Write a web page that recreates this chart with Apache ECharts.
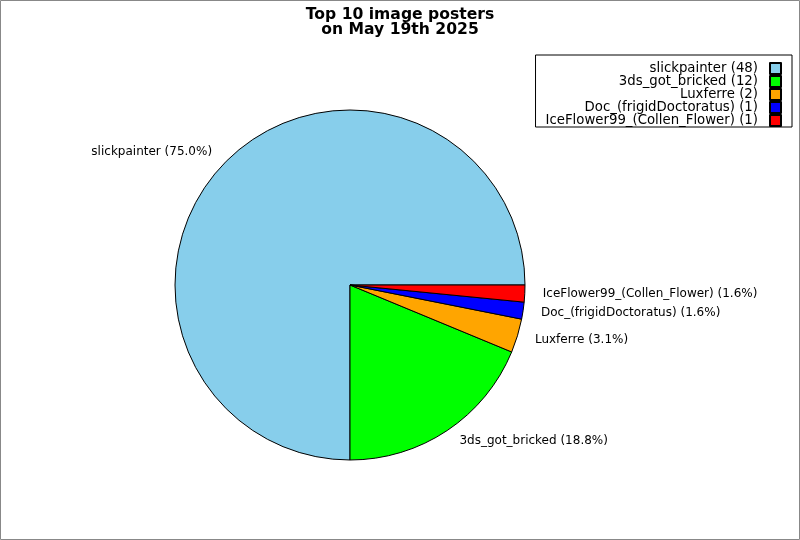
<!DOCTYPE html>
<html>
<head>
<meta charset="utf-8">
<script src="https://cdn.jsdelivr.net/npm/echarts@6/dist/echarts.min.js"></script>
<style>
html,body{margin:0;padding:0;background:#fff;}
#chart{width:800px;height:540px;}
</style>
</head>
<body>
<div id="chart"></div>
<script>
const names = ['slickpainter', '3ds_got_bricked', 'Luxferre', 'Doc_(frigidDoctoratus)', 'IceFlower99_(Collen_Flower)'];
const counts = [48, 12, 2, 1, 1];
const colors = ['#87CEEB', '#00FF00', '#FFA500', '#0000FF', '#FF0000'];
const titleLines = ['Top 10 image posters', 'on May 19th 2025'];

const total = counts.reduce((a, b) => a + b, 0);
const data = names.map((n, i) => ({ name: n, value: counts[i], itemStyle: { color: colors[i] } }));

const chart = echarts.init(document.getElementById('chart'));
chart.setOption({
  animation: false,
  backgroundColor: '#fff',
  textStyle: { fontFamily: 'DejaVu Sans' },
  graphic: [{
    type: 'rect',
    shape: { x: 0.5, y: 0.5, width: 799, height: 539 },
    style: { fill: 'none', stroke: '#888', lineWidth: 1 },
    silent: true
  }],
  title: {
    text: titleLines.join('\n'),
    left: 'center',
    top: 2,
    textStyle: { fontFamily: 'DejaVu Sans', fontWeight: 'bold', fontSize: 15.6, lineHeight: 15.5, color: '#000' }
  },
  legend: {
    orient: 'vertical',
    right: 8,
    top: 55,
    align: 'right',
    itemWidth: 11,
    itemHeight: 11,
    itemGap: 0,
    padding: [7, 10, 0, 10],
    borderColor: '#000',
    borderWidth: 1,
    borderRadius: 0,
    icon: 'rect',
    textStyle: { fontFamily: 'DejaVu Sans', fontSize: 13.3, lineHeight: 13, color: '#000', padding: [0, 7, 0, 0] },
    formatter: function (name) {
      const i = names.indexOf(name);
      return name + ' (' + counts[i] + ')';
    }
  },
  series: [{
    type: 'pie',
    center: [350, 285],
    radius: 175,
    startAngle: 0,
    clockwise: false,
    avoidLabelOverlap: false,
    itemStyle: { borderColor: '#000', borderWidth: 1 },
    label: {
      show: true,
      position: 'outside',
      fontFamily: 'DejaVu Sans',
      fontSize: 12,
      color: '#000',
      distanceToLabelLine: 5,
      formatter: function (p) {
        return p.name + ' (' + (p.value / total * 100).toFixed(1) + '%)';
      }
    },
    labelLine: { show: false, length: 13, length2: 0 },
    emphasis: { disabled: true },
    data: data
  }]
});
</script>
</body>
</html>
